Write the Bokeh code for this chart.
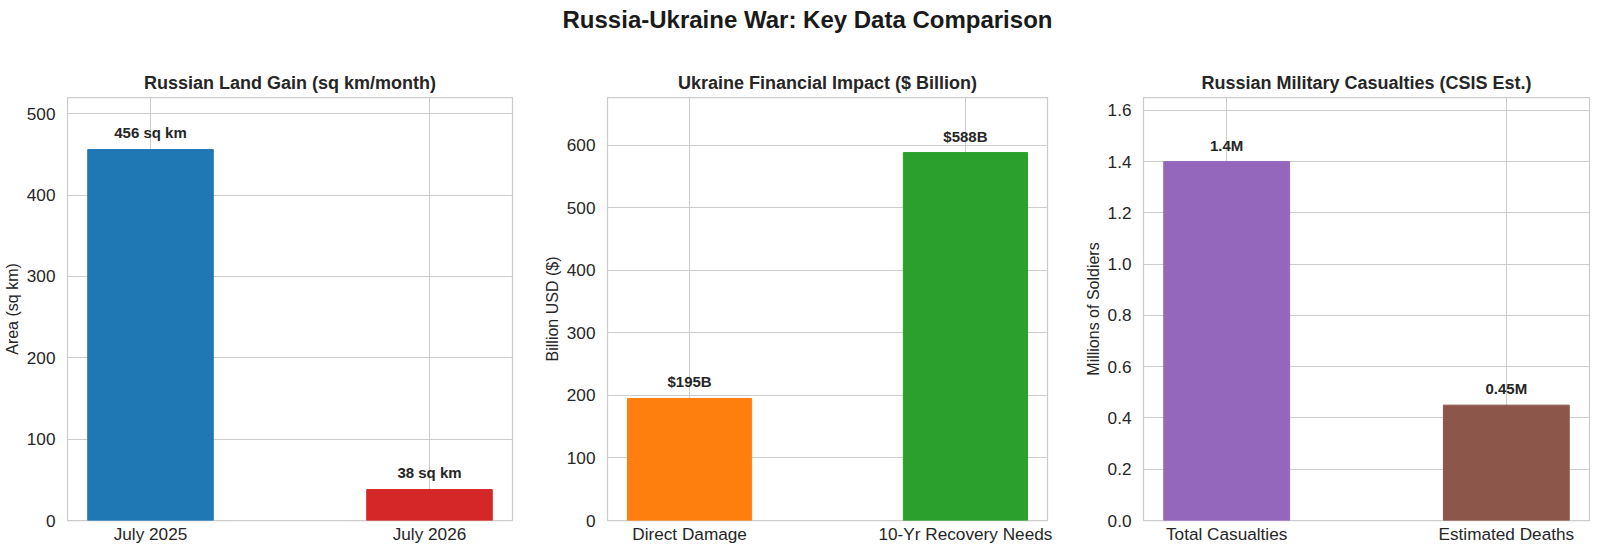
from bokeh.plotting import figure
from bokeh.models import Range1d, FixedTicker, SingleIntervalTicker, NumeralTickFormatter, Div, ColumnDataSource
from bokeh.layouts import column, row
from bokeh.core.properties import value
from bokeh.embed import file_html
from bokeh.resources import INLINE

# ---- data ----
land_categories = ["July 2025", "July 2026"]
land_values = [456, 38]
land_colors = ["#1f77b4", "#d62728"]

finance_categories = ["Direct Damage", "10-Yr Recovery Needs"]
finance_values = [195, 588]
finance_colors = ["#ff7f0e", "#2ca02c"]

casualty_categories = ["Total Casualties", "Estimated Deaths"]
casualty_values = [1.4, 0.45]
casualty_colors = ["#9467bd", "#8c564b"]

land_labels = [f"{v} sq km" for v in land_values]
finance_labels = [f"${v}B" for v in finance_values]
casualty_labels = [f"{v}M" for v in casualty_values]

FONT = "Liberation Sans"
TXT = "#262626"
GRID = "#cccccc"


def panel(title, categories, values, colors, labels, ylabel, ymax, interval, w, bl, br, fmt=None):
    p = figure(width=w, height=503, output_backend="svg", toolbar_location=None,
               x_range=Range1d(-0.2975, 1.2975), y_range=Range1d(0, ymax),
               min_border_left=bl, min_border_right=br, min_border_top=47, min_border_bottom=33)
    xs = list(range(len(categories)))
    src = ColumnDataSource(dict(x=xs, top=values, color=colors, label=labels,
                                ly=[v + 0.045 * max(values) for v in values]))
    p.vbar(x="x", top="top", bottom=0, width=0.45, fill_color="color", line_color="color",
           line_width=1, source=src)
    p.text(x="x", y="ly", text="label", source=src, text_align="center",
           text_baseline="alphabetic", text_font=value(FONT), text_font_size="15px",
           text_font_style="bold", text_color=TXT)

    p.title.text = title
    p.title.align = "center"
    p.title.text_font = FONT
    p.title.text_font_size = "18px"
    p.title.text_font_style = "bold"
    p.title.text_color = TXT

    p.xaxis.ticker = FixedTicker(ticks=xs)
    p.xaxis.major_label_overrides = {i: c for i, c in enumerate(categories)}
    p.yaxis.ticker = SingleIntervalTicker(interval=interval)
    if fmt:
        p.yaxis.formatter = NumeralTickFormatter(format=fmt)
    p.yaxis.axis_label = ylabel
    p.yaxis.axis_label_text_font = FONT
    p.yaxis.axis_label_text_font_size = "16px"
    p.yaxis.axis_label_text_font_style = "normal"
    p.yaxis.axis_label_text_color = TXT
    p.yaxis.axis_label_standoff = 3
    p.yaxis.major_label_standoff = 6
    p.xaxis.major_label_standoff = -3
    for ax in (p.xaxis, p.yaxis):
        ax.major_label_text_font = FONT
        ax.major_label_text_font_size = "17.2px"
        ax.major_label_text_color = TXT
        ax.axis_line_color = None
        ax.major_tick_line_color = None
        ax.minor_tick_line_color = None
    p.grid.grid_line_color = GRID
    p.grid.grid_line_width = 1
    p.outline_line_color = GRID
    p.outline_line_width = 1.25
    p.background_fill_color = "white"
    p.border_fill_color = "white"
    return p


p1 = panel("Russian Land Gain (sq km/month)", land_categories, land_values, land_colors,
           land_labels, "Area (sq km)", 520, 100, 540, 58, 28)
p2 = panel("Ukraine Financial Impact ($ Billion)", finance_categories, finance_values, finance_colors,
           finance_labels, "Billion USD ($)", 676, 100, 541, 58, 34)
p3 = panel("Russian Military Casualties (CSIS Est.)", casualty_categories, casualty_values, casualty_colors,
           casualty_labels, "Millions of Soldiers", 1.65, 0.2, 534, 59, 26, "0.0")

title = Div(text="Russia-Ukraine War: Key Data Comparison",
            width=1615, height=50,
            styles={"margin": "0", "padding-top": "7px", "text-align": "center",
                    "font-family": "Liberation Sans", "font-size": "24px",
                    "font-weight": "bold", "color": "#1a1a1a", "line-height": "26px",
                    "overflow": "hidden", "box-sizing": "border-box"})

layout = column(title, row(p1, p2, p3))
open("out.html", "w").write(file_html(layout, INLINE))
